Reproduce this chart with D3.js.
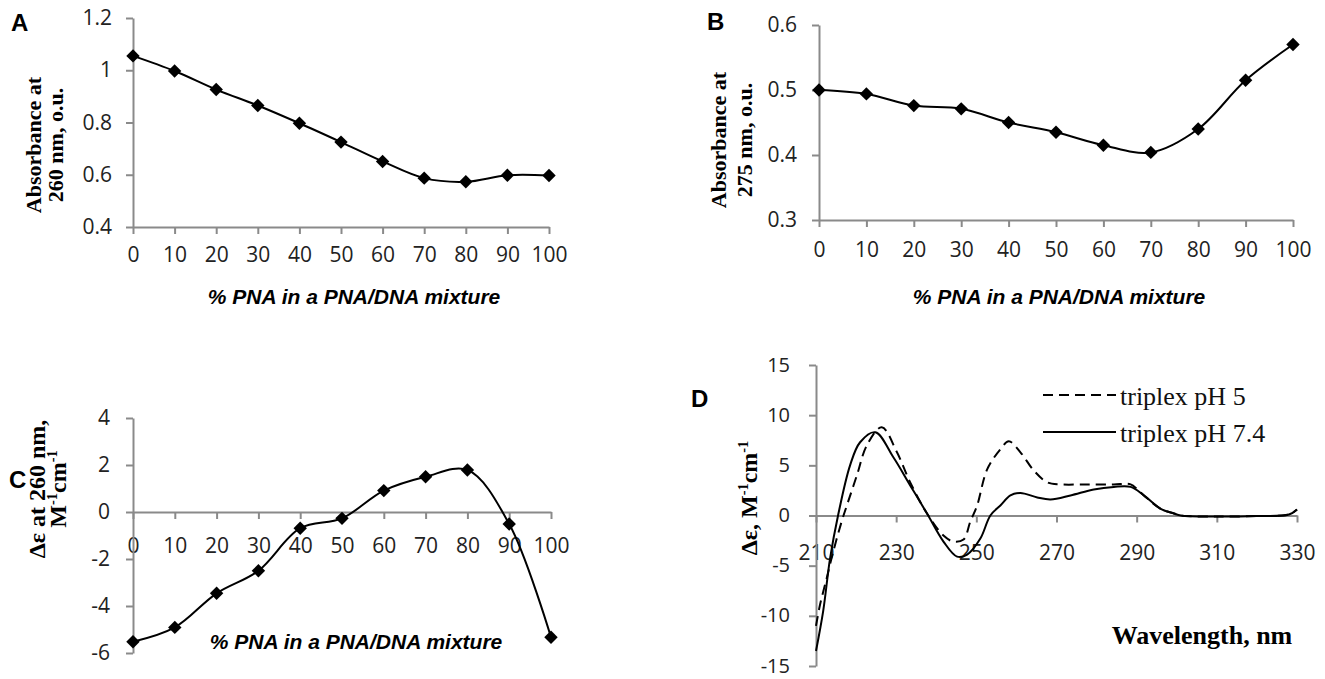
<!DOCTYPE html>
<html>
<head>
<meta charset="utf-8">
<script src="https://cdn.jsdelivr.net/npm/d3@7"></script>
<style>
  body { margin: 0; background: #fff; }
  svg { display: block; }
  .tick text { font-family: "Open Sans", sans-serif; font-size: 21px; fill: #222; }
  .domain, .tick line { stroke: #8a8a8a; stroke-width: 2; }
</style>
</head>
<body>
<svg id="chart" width="1325" height="679"></svg>
<script>
// % PNA in a PNA/DNA mixture
const pnaPct = [0, 10, 20, 30, 40, 50, 60, 70, 80, 90, 100];

// A: absorbance at 260 nm
const abs260 = [1.055, 0.997, 0.926, 0.865, 0.797, 0.725, 0.651, 0.587, 0.573, 0.598, 0.597];
const ticksA = [0.4, 0.6, 0.8, 1, 1.2];

// B: absorbance at 275 nm
const abs275 = [0.5, 0.494, 0.476, 0.471, 0.45, 0.435, 0.415, 0.404, 0.44, 0.515, 0.57];
const ticksB = [0.3, 0.4, 0.5, 0.6];

// C: delta epsilon at 260 nm
const de260 = [-5.52, -4.91, -3.46, -2.5, -0.69, -0.27, 0.91, 1.5, 1.79, -0.51, -5.33];
const ticksC = [-6, -4, -2, 0, 2, 4];

// D: CD spectra
const wlPH5 = [210, 211, 212.7, 214.3, 216.4, 217.7, 220.2, 222.7, 226.4, 230.2, 233.5, 237.7, 241.8, 244.3,
  246.8, 248.5, 250.2, 252.7, 256, 258.1, 261, 264.3, 267.7, 271, 277.7, 284.3, 288.5, 290.2, 291.8, 296,
  299.3, 301, 310, 320, 328, 330];
const cdPH5 = [-11, -8.9, -6.2, -3.6, -0.6, 1.0, 4.0, 7.0, 8.8, 6.3, 3.3, 0.2, -2.0, -2.6,
  -2.4, -0.6, 1.0, 4.6, 6.6, 7.4, 6.3, 4.5, 3.3, 3.1, 3.1, 3.1, 3.1, 2.6, 2.0, 0.66,
  0.2, 0, -0.1, -0.05, 0.1, 0.6];
const wlPH74 = [210, 211.8, 213.5, 215.5, 218.5, 221, 224.8, 229.3, 233.5, 237.7, 241.8, 245.2, 247.7, 251,
  253.5, 256, 258.5, 261, 265.2, 268.5, 273.5, 279.3, 284.3, 288.5, 291.8, 296, 299.3, 301, 310, 320, 328, 330];
const cdPH74 = [-13.5, -9.5, -4.3, 0, 5.0, 7.3, 8.3, 5.8, 3.0, 0.2, -2.6, -4.1, -3.9, -2.3,
  0, 1.0, 2.0, 2.25, 1.8, 1.6, 2.0, 2.6, 2.85, 2.85, 2.0, 0.66, 0.2, 0, -0.1, -0.05, 0.1, 0.6];
const ticksDx = [210, 230, 250, 270, 290, 310, 330];
const ticksDy = [-15, -10, -5, 0, 5, 10, 15];
const legendLabels = ['triplex pH 5', 'triplex pH 7.4'];

const pnaTitle = '% PNA in a PNA/DNA mixture';

const svg = d3.select('#chart');

// excel style labels: 1, 0.8, -6 (plain hyphen)
const fmt = d => String(d);

function drawAxes(g, x, y, xTicks, yTicks, xAxisY, xPad, yPad) {
  g.append('g')
    .attr('transform', `translate(0,${xAxisY})`)
    .call(d3.axisBottom(x).tickValues(xTicks).tickFormat(fmt)
      .tickSize(7).tickPadding(xPad).tickSizeOuter(0));
  g.append('g')
    .attr('class', 'yaxis')
    .attr('transform', `translate(${x.range()[0]},0)`)
    .call(d3.axisLeft(y).tickValues(yTicks).tickFormat(fmt)
      .tickSize(7).tickPadding(yPad).tickSizeOuter(0));
}

function drawSeries(g, x, y, xs, ys, dash) {
  const pts = xs.map((v, i) => [x(v), y(ys[i])]);
  g.append('path')
    .attr('d', d3.line().curve(d3.curveCatmullRom)(pts))
    .attr('fill', 'none')
    .attr('stroke', '#000')
    .attr('stroke-width', 2)
    .attr('stroke-dasharray', dash || null);
  return pts;
}

function drawMarkers(g, pts) {
  g.selectAll('path.mk')
    .data(pts)
    .enter()
    .append('path')
    .classed('mk', true)
    .attr('transform', d => `translate(${d[0]},${d[1]})`)
    .attr('d', d3.symbol(d3.symbolDiamond2, 115))
    .attr('fill', '#000');
}

function panelLetter(txt, x, y) {
  svg.append('text')
    .attr('x', x).attr('y', y)
    .attr('font-family', 'Liberation Sans, Arial, sans-serif')
    .attr('font-weight', 'bold')
    .attr('font-size', 24)
    .text(txt);
}

function yTitle(lines, cy, size) {
  // parts: [text, superscript?, dropBack?]
  lines.forEach(l => {
    const t = svg.append('text')
      .attr('transform', `translate(${l.x},${cy}) rotate(-90)`)
      .attr('text-anchor', 'middle')
      .attr('font-family', 'Liberation Serif, Times New Roman, serif')
      .attr('font-weight', 'bold')
      .attr('font-size', size);
    l.parts.forEach(p => {
      const ts = t.append('tspan').text(p[0]);
      if (p[1]) ts.attr('font-size', size * 0.6).attr('dy', -9);
      else if (p[2]) ts.attr('dy', 9);
    });
  });
}

function pnaXTitle(cx, y) {
  svg.append('text')
    .attr('x', cx).attr('y', y)
    .attr('text-anchor', 'middle')
    .attr('font-family', 'Liberation Sans, Arial, sans-serif')
    .attr('font-weight', 'bold')
    .attr('font-style', 'italic')
    .attr('font-size', 21)
    .text(pnaTitle);
}

// ---- Panel A ----
const xA = d3.scaleLinear().domain([0, 100]).range([133, 549]);
const yA = d3.scaleLinear().domain([0.4, 1.2]).range([227, 18]);
const gA = svg.append('g');
drawAxes(gA, xA, yA, pnaPct, ticksA, 227, 13, 14);
drawMarkers(gA, drawSeries(gA, xA, yA, pnaPct, abs260));
panelLetter('A', 11, 31);
yTitle([{x: 41, parts: [['Absorbance at']]}, {x: 63, parts: [['260 nm, o.u.']]}], 145, 22);
pnaXTitle(354, 304);

// ---- Panel B ----
const xB = d3.scaleLinear().domain([0, 100]).range([819, 1293]);
const yB = d3.scaleLinear().domain([0.3, 0.6]).range([220, 25]);
const gB = svg.append('g');
drawAxes(gB, xB, yB, pnaPct, ticksB, 220, 15, 15);
drawMarkers(gB, drawSeries(gB, xB, yB, pnaPct, abs275));
panelLetter('B', 707, 30);
yTitle([{x: 726, parts: [['Absorbance at']]}, {x: 752, parts: [['275 nm, o.u.']]}], 140, 22);
pnaXTitle(1059, 304);

// ---- Panel C ----
const xC = d3.scaleLinear().domain([0, 100]).range([133, 551]);
const yC = d3.scaleLinear().domain([-6, 4]).range([653, 418]);
const gC = svg.append('g');
drawAxes(gC, xC, yC, pnaPct, ticksC, yC(0), 19, 16);
drawMarkers(gC, drawSeries(gC, xC, yC, pnaPct, de260));
panelLetter('C', 9, 488);
yTitle([
  {x: 45, parts: [['Δε at 260 nm,']]},
  {x: 66, parts: [['M'], ['-1', true], ['cm', false, true], ['-1', true]]}
], 489, 24);
pnaXTitle(356, 649);

// ---- Panel D ----
const xD = d3.scaleLinear().domain([210, 330]).range([816, 1297]);
const yD = d3.scaleLinear().domain([-15, 15]).range([666, 365]);
const gD = svg.append('g');
drawAxes(gD, xD, yD, ticksDx, ticksDy, yD(0), 23, 19);
gD.selectAll('.yaxis .tick text').style('font-size', '20px').attr('dy', '0.3em');
drawSeries(gD, xD, yD, wlPH5, cdPH5, '10,6');
drawSeries(gD, xD, yD, wlPH74, cdPH74);
panelLetter('D', 691, 407);
yTitle([{x: 757, parts: [['Δε, M'], ['-1', true], ['cm', false, true], ['-1', true]]}], 498, 24);

svg.append('text')
  .attr('x', 1202).attr('y', 644)
  .attr('text-anchor', 'middle')
  .attr('font-family', 'Liberation Serif, Times New Roman, serif')
  .attr('font-weight', 'bold')
  .attr('font-size', 26)
  .text('Wavelength, nm');

// legend
const legend = svg.append('g');
legendLabels.forEach((lab, i) => {
  const ly = 395 + i * 37;
  legend.append('line')
    .attr('x1', 1043).attr('x2', 1116)
    .attr('y1', ly).attr('y2', ly)
    .attr('stroke', '#000')
    .attr('stroke-width', 2)
    .attr('stroke-dasharray', i === 0 ? '10,6' : null);
  legend.append('text')
    .attr('x', 1120).attr('y', ly + 10)
    .attr('font-family', 'Liberation Serif, Times New Roman, serif')
    .attr('font-size', 26)
    .attr('fill', '#111')
    .text(lab);
});
</script>
</body>
</html>
